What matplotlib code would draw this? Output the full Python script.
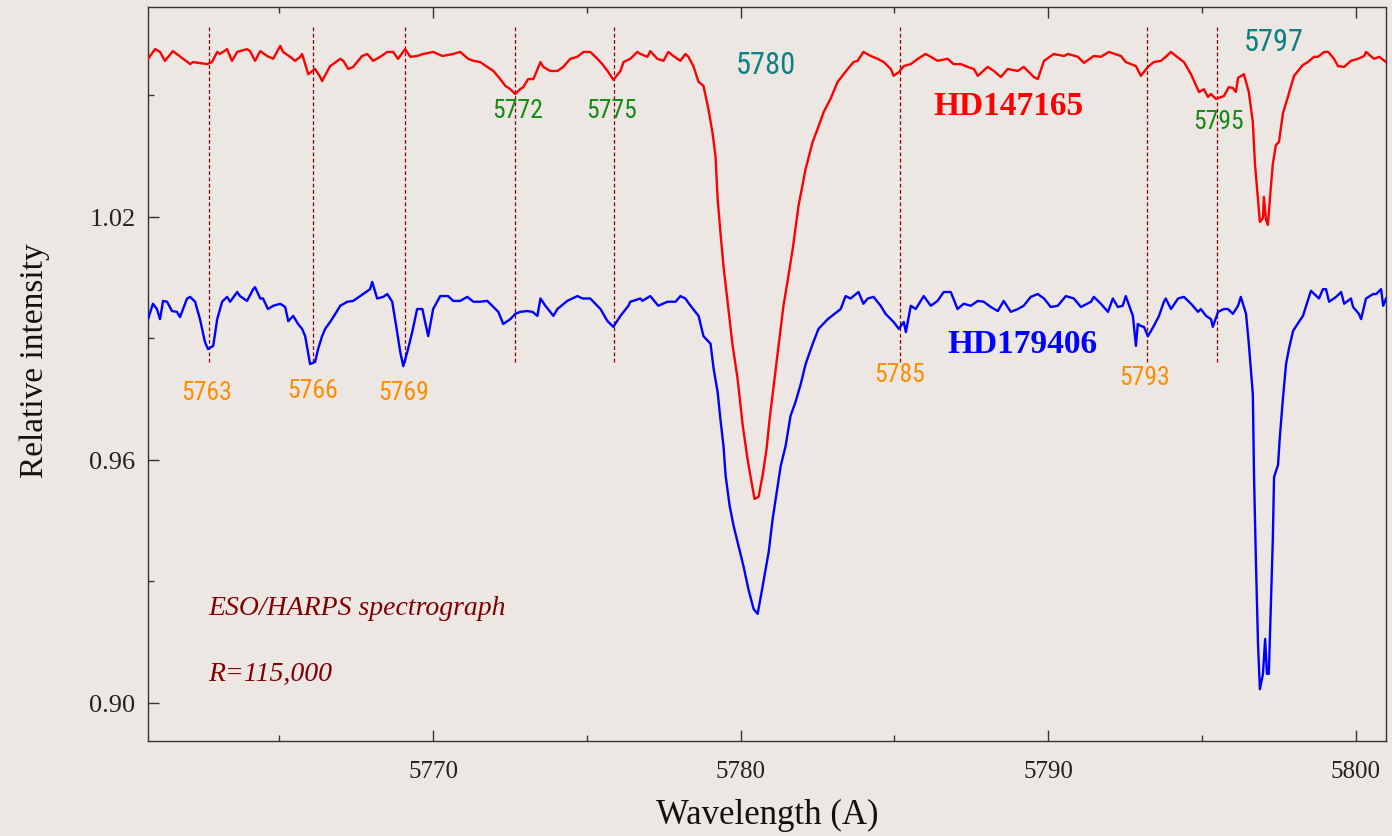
import numpy as np
import matplotlib
matplotlib.use("Agg")
import matplotlib.pyplot as plt
from matplotlib.ticker import MultipleLocator
from matplotlib import font_manager as fm

# --- Espectros normalizados (HD147165 desplazado +0.06) ---
lam_hd147165 = [
    5760.73, 5761.12, 5761.54, 5761.87, 5762.19, 5762.65, 5762.81, 5763.07, 5763.63, 5764.05,
    5764.60, 5765.03, 5765.35, 5765.68, 5765.94, 5766.33, 5766.65, 5767.08, 5767.40, 5767.86,
    5768.28, 5768.70, 5769.09, 5769.48, 5770.00, 5770.65, 5771.31, 5771.76, 5772.18, 5772.51,
    5772.67, 5772.93, 5773.26, 5773.58, 5774.04, 5774.46, 5774.89, 5775.34, 5775.67, 5775.86,
    5776.09, 5776.19, 5776.41, 5776.74, 5777.29, 5777.81, 5778.30, 5778.46, 5778.63, 5778.79,
    5778.95, 5779.08, 5779.18, 5779.25, 5779.34, 5779.44, 5779.60, 5779.73, 5779.90, 5780.06,
    5780.22, 5780.35, 5780.45, 5780.58, 5780.71, 5780.84, 5780.94, 5781.07, 5781.23, 5781.39,
    5781.52, 5781.69, 5781.88, 5782.11, 5782.34, 5782.50, 5782.70, 5782.92, 5783.15, 5783.48,
    5783.80, 5783.99, 5784.45, 5784.88, 5785.14, 5785.53, 5786.01, 5786.40, 5786.92, 5787.38,
    5787.71, 5788.23, 5788.46, 5789.01, 5789.53, 5789.86, 5790.18, 5790.64, 5791.16, 5791.48,
    5791.97, 5792.36, 5792.69, 5793.01, 5793.24, 5793.66, 5793.99, 5794.41, 5794.64, 5794.90,
    5795.19, 5795.45, 5795.71, 5796.00, 5796.17, 5796.36, 5796.52, 5796.65, 5796.72, 5796.82,
    5796.88, 5796.98, 5797.01, 5797.08, 5797.14, 5797.21, 5797.30, 5797.40, 5797.50, 5797.63,
    5797.79, 5797.99, 5798.28, 5798.44, 5798.77, 5799.10, 5799.42, 5799.84, 5800.27, 5800.59,
    5800.98,
]
int_hd147165 = [
    1.0590, 1.0607, 1.0609, 1.0590, 1.0582, 1.0577, 1.0582, 1.0602, 1.0607, 1.0609,
    1.0597, 1.0622, 1.0595, 1.0595, 1.0552, 1.0545, 1.0572, 1.0585, 1.0570, 1.0602,
    1.0595, 1.0607, 1.0614, 1.0597, 1.0607, 1.0602, 1.0585, 1.0570, 1.0540, 1.0515,
    1.0503, 1.0520, 1.0540, 1.0570, 1.0560, 1.0590, 1.0607, 1.0590, 1.0560, 1.0538,
    1.0560, 1.0582, 1.0590, 1.0602, 1.0590, 1.0597, 1.0595, 1.0572, 1.0533, 1.0523,
    1.0466, 1.0409, 1.0350, 1.0244, 1.0162, 1.0078, 0.9972, 0.9886, 0.9799, 0.9688,
    0.9602, 0.9545, 0.9503, 0.9508, 0.9560, 0.9626, 0.9700, 0.9782, 0.9881, 0.9980,
    1.0039, 1.0120, 1.0227, 1.0318, 1.0385, 1.0417, 1.0459, 1.0491, 1.0533, 1.0565,
    1.0585, 1.0607, 1.0590, 1.0565, 1.0557, 1.0577, 1.0602, 1.0585, 1.0577, 1.0570,
    1.0548, 1.0560, 1.0545, 1.0560, 1.0545, 1.0585, 1.0602, 1.0602, 1.0580, 1.0597,
    1.0607, 1.0597, 1.0577, 1.0548, 1.0570, 1.0585, 1.0607, 1.0582, 1.0552, 1.0508,
    1.0496, 1.0491, 1.0498, 1.0518, 1.0543, 1.0552, 1.0508, 1.0434, 1.0330, 1.0239,
    1.0187, 1.0197, 1.0249, 1.0192, 1.0180, 1.0249, 1.0330, 1.0377, 1.0385, 1.0456,
    1.0496, 1.0548, 1.0575, 1.0582, 1.0595, 1.0607, 1.0572, 1.0585, 1.0597, 1.0590,
    1.0582,
]
# puntos extra del continuo (picos de ruido)
lam_hd147165_det = [
    5760.96, 5761.28, 5762.10, 5762.98, 5763.30, 5763.46, 5763.95, 5764.21, 5764.38, 5764.80,
    5765.12, 5765.51, 5765.74, 5766.16, 5766.39, 5766.75, 5766.98, 5767.24, 5767.69, 5768.05,
    5768.51, 5768.86, 5769.26, 5769.68, 5770.30, 5770.88, 5771.14, 5771.53, 5771.96, 5772.35,
    5772.83, 5773.09, 5773.49, 5773.81, 5774.23, 5774.69, 5775.11, 5775.50, 5776.64, 5776.97,
    5777.06, 5777.49, 5777.65, 5778.04, 5778.20, 5783.67, 5784.23, 5784.65, 5784.97, 5785.30,
    5785.76, 5786.18, 5786.73, 5787.15, 5787.58, 5788.03, 5788.68, 5789.20, 5789.66, 5790.51,
    5790.96, 5791.71, 5792.52, 5792.85, 5793.43, 5793.82, 5794.15, 5795.06, 5795.29, 5795.87,
    5796.10, 5798.64, 5798.97, 5799.29, 5799.62, 5800.07, 5800.33, 5800.76,
]
int_hd147165_det = [
    1.0614, 1.0585, 1.0577, 1.0607, 1.0614, 1.0585, 1.0614, 1.0585, 1.0609, 1.0590,
    1.0607, 1.0585, 1.0602, 1.0565, 1.0535, 1.0577, 1.0590, 1.0565, 1.0597, 1.0585,
    1.0607, 1.0590, 1.0595, 1.0602, 1.0597, 1.0607, 1.0590, 1.0582, 1.0560, 1.0523,
    1.0515, 1.0540, 1.0582, 1.0560, 1.0570, 1.0595, 1.0607, 1.0577, 1.0607, 1.0595,
    1.0609, 1.0585, 1.0607, 1.0585, 1.0602, 1.0582, 1.0597, 1.0582, 1.0548, 1.0572,
    1.0590, 1.0595, 1.0590, 1.0577, 1.0565, 1.0570, 1.0565, 1.0570, 1.0540, 1.0597,
    1.0595, 1.0595, 1.0582, 1.0572, 1.0582, 1.0595, 1.0597, 1.0515, 1.0503, 1.0520,
    1.0508, 1.0595, 1.0607, 1.0590, 1.0570, 1.0590, 1.0607, 1.0595,
]

lam_hd179406 = [
    5760.73, 5760.89, 5761.12, 5761.35, 5761.67, 5762.00, 5762.26, 5762.42, 5762.58, 5762.68,
    5762.85, 5762.98, 5763.14, 5763.40, 5763.72, 5764.15, 5764.47, 5764.80, 5765.19, 5765.29,
    5765.61, 5765.84, 5766.00, 5766.16, 5766.39, 5766.65, 5766.98, 5767.40, 5767.95, 5768.38,
    5768.67, 5768.83, 5768.93, 5769.03, 5769.16, 5769.32, 5769.48, 5769.65, 5769.84, 5770.00,
    5770.49, 5770.88, 5771.31, 5771.76, 5772.12, 5772.51, 5772.83, 5773.23, 5773.49, 5774.04,
    5774.69, 5775.11, 5775.44, 5775.67, 5775.86, 5776.09, 5776.41, 5776.74, 5777.06, 5777.62,
    5778.04, 5778.37, 5778.63, 5778.79, 5779.02, 5779.12, 5779.25, 5779.34, 5779.44, 5779.51,
    5779.64, 5779.77, 5779.93, 5780.09, 5780.25, 5780.42, 5780.55, 5780.64, 5780.81, 5780.91,
    5781.04, 5781.20, 5781.30, 5781.46, 5781.62, 5781.78, 5781.95, 5782.11, 5782.34, 5782.53,
    5782.83, 5783.25, 5783.57, 5783.83, 5784.13, 5784.55, 5784.88, 5785.14, 5785.30, 5785.53,
    5785.95, 5786.40, 5786.83, 5787.25, 5787.71, 5788.13, 5788.55, 5789.01, 5789.43, 5789.86,
    5790.31, 5790.83, 5791.39, 5791.71, 5792.26, 5792.52, 5792.75, 5792.91, 5793.11, 5793.24,
    5793.43, 5793.60, 5793.76, 5794.22, 5794.64, 5794.96, 5795.29, 5795.52, 5795.84, 5796.26,
    5796.43, 5796.52, 5796.65, 5796.69, 5796.75, 5796.82, 5796.88, 5796.98, 5797.05, 5797.11,
    5797.17, 5797.24, 5797.30, 5797.34, 5797.47, 5797.53, 5797.63, 5797.73, 5797.83, 5797.96,
    5798.12, 5798.28, 5798.54, 5798.80, 5799.03, 5799.36, 5799.62, 5799.84, 5800.10, 5800.33,
    5800.56, 5800.82, 5800.98,
]
int_hd179406 = [
    0.9947, 0.9985, 0.9947, 0.9990, 0.9965, 0.9998, 0.9990, 0.9947, 0.9891, 0.9873,
    0.9881, 0.9947, 0.9990, 0.9990, 1.0004, 1.0021, 0.9998, 0.9980, 0.9977, 0.9942,
    0.9935, 0.9905, 0.9836, 0.9841, 0.9905, 0.9940, 0.9980, 0.9992, 1.0021, 1.0002,
    0.9990, 0.9915, 0.9866, 0.9831, 0.9866, 0.9915, 0.9972, 0.9972, 0.9905, 0.9972,
    1.0004, 0.9992, 0.9990, 0.9992, 0.9965, 0.9947, 0.9965, 0.9965, 0.9998, 0.9972,
    1.0004, 0.9998, 0.9972, 0.9942, 0.9928, 0.9955, 0.9990, 0.9998, 1.0004, 0.9990,
    1.0004, 0.9980, 0.9955, 0.9905, 0.9886, 0.9824, 0.9767, 0.9700, 0.9634, 0.9560,
    0.9486, 0.9436, 0.9387, 0.9337, 0.9280, 0.9231, 0.9219, 0.9256, 0.9330, 0.9372,
    0.9454, 0.9535, 0.9584, 0.9634, 0.9708, 0.9742, 0.9786, 0.9836, 0.9886, 0.9923,
    0.9947, 0.9972, 0.9998, 1.0014, 0.9998, 0.9980, 0.9947, 0.9923, 0.9940, 0.9980,
    1.0004, 0.9992, 1.0014, 0.9985, 0.9992, 0.9977, 0.9992, 0.9972, 1.0002, 0.9998,
    0.9980, 0.9998, 0.9990, 0.9985, 0.9977, 1.0004, 0.9955, 0.9935, 0.9928, 0.9905,
    0.9930, 0.9955, 0.9990, 0.9998, 0.9985, 0.9972, 0.9947, 0.9965, 0.9972, 1.0002,
    0.9960, 0.9886, 0.9762, 0.9557, 0.9350, 0.9142, 0.9033, 0.9071, 0.9157, 0.9071,
    0.9071, 0.9246, 0.9402, 0.9557, 0.9587, 0.9658, 0.9752, 0.9836, 0.9876, 0.9918,
    0.9937, 0.9955, 1.0017, 0.9998, 1.0021, 1.0002, 0.9985, 0.9998, 0.9960, 0.9998,
    1.0009, 1.0021, 0.9998,
]
lam_hd179406_det = [
    5761.02, 5761.22, 5761.51, 5761.77, 5762.10, 5763.30, 5763.63, 5763.95, 5764.21, 5764.38,
    5764.63, 5765.03, 5765.45, 5765.74, 5766.26, 5766.49, 5766.82, 5767.21, 5767.63, 5768.02,
    5768.18, 5768.51, 5770.23, 5770.65, 5771.11, 5771.53, 5771.96, 5772.28, 5772.67, 5773.06,
    5773.39, 5773.65, 5773.91, 5774.36, 5774.86, 5775.21, 5776.35, 5776.80, 5777.32, 5777.88,
    5778.20, 5783.41, 5783.99, 5784.32, 5784.71, 5784.97, 5785.37, 5785.69, 5786.18, 5786.60,
    5787.05, 5787.48, 5787.90, 5788.36, 5788.78, 5789.20, 5789.66, 5790.08, 5790.57, 5791.06,
    5791.48, 5791.94, 5792.10, 5792.42, 5792.85, 5793.01, 5793.82, 5793.99, 5794.41, 5794.87,
    5795.13, 5795.35, 5795.71, 5796.00, 5796.17, 5798.93, 5799.13, 5799.52, 5799.91, 5800.17,
    5800.66, 5800.89,
]
int_hd179406_det = [
    0.9972, 0.9992, 0.9967, 0.9952, 1.0002, 1.0002, 1.0014, 0.9992, 1.0026, 0.9998,
    0.9972, 0.9985, 0.9955, 0.9923, 0.9873, 0.9923, 0.9960, 0.9990, 1.0004, 1.0039,
    0.9998, 1.0009, 1.0004, 0.9992, 1.0002, 0.9990, 0.9977, 0.9935, 0.9960, 0.9967,
    0.9955, 0.9980, 0.9955, 0.9992, 0.9998, 0.9990, 0.9980, 0.9992, 0.9980, 0.9990,
    0.9998, 1.0004, 0.9985, 1.0002, 0.9960, 0.9940, 0.9915, 0.9972, 0.9980, 1.0014,
    0.9972, 0.9980, 0.9990, 0.9967, 0.9965, 0.9980, 1.0009, 0.9977, 1.0004, 0.9977,
    1.0002, 0.9965, 0.9998, 0.9980, 0.9881, 0.9930, 0.9998, 0.9972, 1.0002, 0.9965,
    0.9955, 0.9928, 0.9972, 0.9960, 0.9980, 1.0021, 0.9990, 1.0014, 0.9977, 0.9947,
    1.0009, 0.9980,
]

# DIBs marcadas con linea vertical
lineas_dib = [5762.71, 5766.10, 5769.09, 5772.67, 5775.89, 5785.17, 5793.21, 5795.48]

etiquetas_naranja = ["5763", "5766", "5769", "5785", "5793"]
etiquetas_verde = ["5772", "5775", "5795"]
etiquetas_teal = ["5780", "5797"]


def elegir_fuente(*nombres):
    for n in nombres:
        try:
            fm.findfont(fm.FontProperties(family=n), fallback_to_default=False)
            return n
        except ValueError:
            pass
    return "DejaVu Sans"


def unir(lam, flujo, lam_det, flujo_det):
    # mezcla los puntos base con los de detalle, ordenados por longitud de onda
    x = np.concatenate([lam, lam_det])
    y = np.concatenate([flujo, flujo_det])
    orden = np.argsort(x, kind="stable")
    return x[orden], y[orden]


SERIF = elegir_fuente("Liberation Serif", "DejaVu Serif")
ANGOSTA = elegir_fuente("Liberation Sans Narrow", "Roboto Condensed", "Roboto", "DejaVu Sans")

FONDO = "#ece7e3"

fig = plt.figure(figsize=(13.92, 8.37), dpi=100, facecolor=FONDO)
ax = fig.add_axes([148 / 1392, 95 / 837, 1238 / 1392, 734 / 837])
ax.set_facecolor(FONDO)

x1, y1 = unir(lam_hd147165, int_hd147165, lam_hd147165_det, int_hd147165_det)
x2, y2 = unir(lam_hd179406, int_hd179406, lam_hd179406_det, int_hd179406_det)
ax.plot(x1, y1, color="#ff0000", lw=1.7, zorder=3)
ax.plot(x2, y2, color="#0000ff", lw=1.7, zorder=3)

for lam in lineas_dib:
    ax.plot([lam, lam], [0.9842, 1.0668], color="#8b0000", lw=0.9,
            linestyle=(0, (3, 2)), zorder=2)

# --- etiquetas de las bandas ---
pos_naranja = [(5762.65, 0.9767), (5766.07, 0.9772), (5769.03, 0.9767),
               (5785.17, 0.9811), (5793.14, 0.9804)]
for txt, (x, y) in zip(etiquetas_naranja, pos_naranja):
    ax.text(x, y, txt, color="#ff8c00", fontsize=18.5, family=ANGOSTA,
            ha="center", va="center")

pos_verde = [(5772.74, 1.0463), (5775.80, 1.0463), (5795.55, 1.0436)]
for txt, (x, y) in zip(etiquetas_verde, pos_verde):
    ax.text(x, y, txt, color="#138a13", fontsize=18.5, family=ANGOSTA,
            ha="center", va="center")

pos_teal = [(5780.81, 1.0577), (5797.34, 1.0632)]
for txt, (x, y) in zip(etiquetas_teal, pos_teal):
    ax.text(x, y, txt, color="#0f8080", fontsize=22, family=ANGOSTA,
            ha="center", va="center")

ax.text(5788.72, 1.0474, "HD147165", color="#ff0000", fontsize=24,
        family=SERIF, fontweight="bold", ha="center", va="center")
ax.text(5789.17, 0.9886, "HD179406", color="#0000ff", fontsize=24,
        family=SERIF, fontweight="bold", ha="center", va="center")

ax.text(5762.68, 0.9234, "ESO/HARPS spectrograph", color="#800000", fontsize=20,
        family=SERIF, style="italic", ha="left", va="center")
ax.text(5762.68, 0.9071, "R=115,000", color="#800000", fontsize=20,
        family=SERIF, style="italic", ha="left", va="center")

# --- ejes ---
ax.set_xlim(5760.73, 5800.98)
ax.set_ylim(0.8905, 1.0718)
ax.xaxis.set_major_locator(MultipleLocator(10))
ax.xaxis.set_minor_locator(MultipleLocator(5))
ax.yaxis.set_major_locator(MultipleLocator(0.06))
ax.yaxis.set_minor_locator(MultipleLocator(0.03))
ax.set_yticks([0.90, 0.96, 1.02])
ax.set_yticklabels(["0.90", "0.96", "1.02"])
ax.tick_params(which="both", direction="in", top=True, right=False,
               color="#333333", width=1)
ax.tick_params(which="major", length=8)
ax.tick_params(which="minor", length=4.5)
ax.tick_params(axis="x", which="major", pad=14)
ax.tick_params(axis="y", which="major", pad=9)
for lbl in ax.get_xticklabels():
    lbl.set_family(SERIF)
    lbl.set_fontsize(18)
    lbl.set_color("#222222")
for lbl in ax.get_yticklabels():
    lbl.set_family(SERIF)
    lbl.set_fontsize(19)
    lbl.set_color("#222222")
for s in ax.spines.values():
    s.set_color("#333333")
    s.set_linewidth(1)

ax.set_xlabel("Wavelength (A)", family=SERIF, fontsize=25, color="#111111")
ax.set_ylabel("Relative intensity", family=SERIF, fontsize=24, color="#111111")
ax.xaxis.set_label_coords(0.5, -0.078)
ax.yaxis.set_label_coords(-0.079, 0.52)

fig.savefig("out.png", dpi=100, facecolor=FONDO)
